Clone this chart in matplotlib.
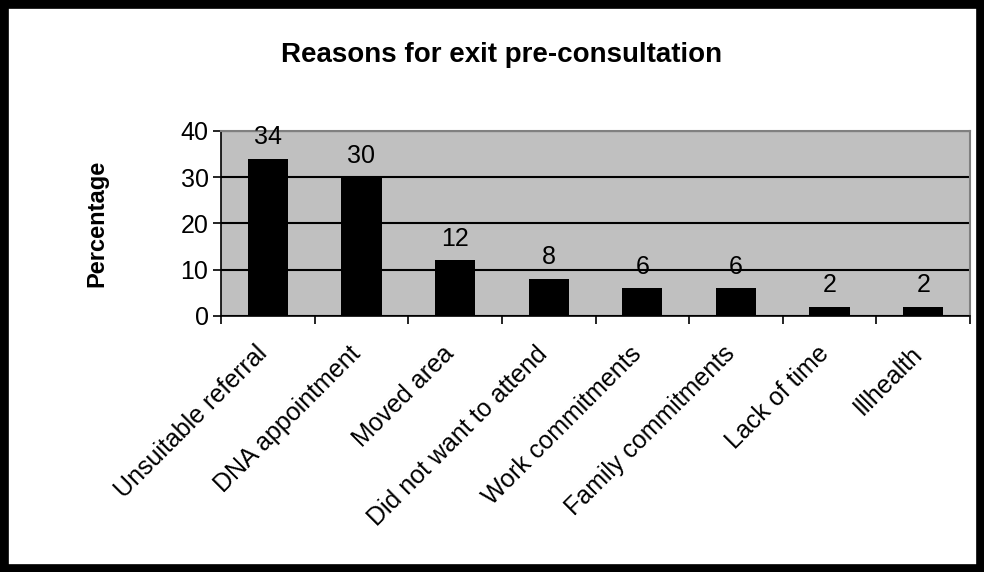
import matplotlib
matplotlib.use("Agg")
import matplotlib.pyplot as plt
from matplotlib.patches import Rectangle
from matplotlib.transforms import ScaledTranslation
import numpy as np

plt.rcParams['font.family'] = ['Liberation Sans', 'DejaVu Sans']

categories = ["Unsuitable referral", "DNA appointment", "Moved area",
              "Did not want to attend", "Work commitments",
              "Family commitments", "Lack of time", "Illhealth"]
values = [34, 30, 12, 8, 6, 6, 2, 2]
yticks = [0, 10, 20, 30, 40]

fig = plt.figure(figsize=(9.84, 5.72), dpi=100)
ax = fig.add_axes([221/984, 1 - 316/572, (970-221)/984, (316-131)/572])

x = np.arange(len(categories))
ax.bar(x, values, width=0.43, color='black', zorder=3)
ax.set_facecolor('#C0C0C0')
ax.set_xlim(-0.5, len(categories) - 0.5)
ax.set_ylim(0, 40)
ax.set_yticks(yticks)
ax.yaxis.grid(True, color='black', linewidth=1.5, zorder=1)
ax.set_axisbelow(True)

for xi, v in zip(x, values):
    ax.annotate(str(v), (xi, v), xytext=(0, 7), textcoords='offset points',
                ha='center', va='bottom', fontsize=18)

# category boundary ticks on x axis
ax.set_xticks(np.arange(-0.5, len(categories)), minor=False)
ax.set_xticklabels([])
ax.tick_params(axis='x', length=6, width=1.2, direction='out')
ax.set_xticks(x, minor=True)
ax.set_xticklabels(categories, minor=True, rotation=45, ha='right',
                   rotation_mode='anchor', fontsize=18)
ax.tick_params(axis='x', which='minor', length=0, pad=9)
ax.tick_params(axis='y', length=6, width=1.2, labelsize=18, pad=3)

# nudge the slanted category labels down and to the left
shift = ScaledTranslation(-0.13, -0.13, fig.dpi_scale_trans)
for lbl in ax.get_xticklabels(minor=True):
    lbl.set_transform(lbl.get_transform() + shift)

for s in ['left', 'bottom']:
    ax.spines[s].set_color('black')
    ax.spines[s].set_linewidth(1.2)
for s in ['top', 'right']:
    ax.spines[s].set_color('#808080')
    ax.spines[s].set_linewidth(1.5)

ax.set_ylabel("Percentage", fontsize=17, fontweight='bold', labelpad=52)
fig.text(502/984, 1 - 55/572, "Reasons for exit pre-consultation",
         ha='center', va='center', fontsize=20, fontweight='bold')

fig.patches.append(Rectangle((0, 0), 1, 1, transform=fig.transFigure,
                             fill=False, edgecolor='black', linewidth=12,
                             zorder=10))

fig.savefig("out.png", dpi=100)
